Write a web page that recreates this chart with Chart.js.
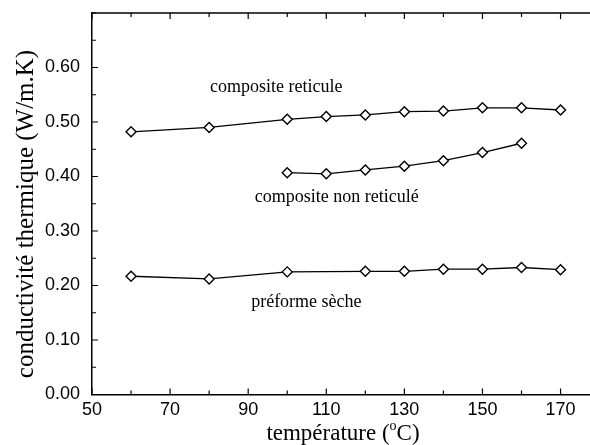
<!DOCTYPE html>
<html>
<head>
<meta charset="utf-8">
<script src="https://cdn.jsdelivr.net/npm/chart.js@4"></script>
<style>
  html, body { margin: 0; padding: 0; background: #fff; overflow: hidden; }
  #wrap { width: 606px; height: 445px; }
</style>
</head>
<body>
<div id="wrap"><canvas id="chart" width="606" height="445"></canvas></div>
<script>
// --- data ---
const tempsReticule = [60, 80, 100, 110, 120, 130, 140, 150, 160, 170];
const condReticule  = [0.482, 0.490, 0.505, 0.510, 0.513, 0.519, 0.520, 0.526, 0.526, 0.522];

const tempsNonReticule = [100, 110, 120, 130, 140, 150, 160];
const condNonReticule  = [0.407, 0.405, 0.412, 0.419, 0.429, 0.444, 0.461];

const tempsPreforme = [60, 80, 100, 120, 130, 140, 150, 160, 170];
const condPreforme  = [0.217, 0.212, 0.225, 0.226, 0.226, 0.230, 0.230, 0.233, 0.229];

const xTickLabels = [50, 70, 90, 110, 130, 150, 170];
const yTickLabels = [0.00, 0.10, 0.20, 0.30, 0.40, 0.50, 0.60];

const annotations = [
  { text: 'composite reticule', x: 97.2, y: 0.564 },
  { text: 'composite non reticulé', x: 112.7, y: 0.362 },
  { text: 'préforme sèche', x: 104.9, y: 0.170 }
];

function toPoints(xs, ys) {
  return xs.map((x, i) => ({ x: x, y: ys[i] }));
}

function series(xs, ys) {
  return {
    data: toPoints(xs, ys),
    borderColor: '#000',
    borderWidth: 1.3,
    pointStyle: 'rectRot',
    pointRadius: 5,
    pointBorderWidth: 1.4,
    pointBackgroundColor: '#fff',
    pointBorderColor: '#000',
    tension: 0,
    fill: false
  };
}

const near = (v, list) => list.some(t => Math.abs(t - v) < 1e-6);

// inward ticks, top frame line, axis titles and in-plot labels
const decorations = {
  id: 'decorations',
  afterDraw(chart) {
    const ctx = chart.ctx;
    const xs = chart.scales.x, ys = chart.scales.y;
    const area = chart.chartArea;
    ctx.save();
    ctx.strokeStyle = '#000';
    ctx.lineWidth = 1.5;
    ctx.beginPath();
    ctx.moveTo(area.left, area.top);
    ctx.lineTo(area.right + 2, area.top);
    ctx.stroke();

    ctx.lineWidth = 1.2;
    ctx.beginPath();
    xs.ticks.forEach(t => {
      const px = xs.getPixelForValue(t.value);
      const len = near(t.value, xTickLabels) ? 6 : 4;
      ctx.moveTo(px, area.bottom);
      ctx.lineTo(px, area.bottom - len);
      ctx.moveTo(px, area.top);
      ctx.lineTo(px, area.top + len);
    });
    ys.ticks.forEach(t => {
      const py = ys.getPixelForValue(t.value);
      const len = near(t.value, yTickLabels) ? 6 : 4;
      ctx.moveTo(area.left, py);
      ctx.lineTo(area.left + len, py);
    });
    ctx.stroke();

    ctx.fillStyle = '#000';
    ctx.textAlign = 'center';
    ctx.textBaseline = 'middle';
    ctx.font = '18px "Liberation Serif", "Times New Roman", serif';
    annotations.forEach(a => {
      ctx.fillText(a.text, xs.getPixelForValue(a.x), ys.getPixelForValue(a.y));
    });

    // x title with a raised small "o" before C
    const big = '23px "Liberation Serif", "Times New Roman", serif';
    const small = '14px "Liberation Serif", "Times New Roman", serif';
    const p1 = 'température (', p2 = 'o', p3 = 'C)';
    ctx.font = big;
    const w1 = ctx.measureText(p1).width, w3 = ctx.measureText(p3).width;
    ctx.font = small;
    const w2 = ctx.measureText(p2).width;
    let x0 = 343 - (w1 + w2 + w3) / 2;
    ctx.textAlign = 'left';
    ctx.textBaseline = 'alphabetic';
    ctx.font = big;
    ctx.fillText(p1, x0, 440);
    ctx.font = small;
    ctx.fillText(p2, x0 + w1, 430);
    ctx.font = big;
    ctx.fillText(p3, x0 + w1 + w2, 440);

    ctx.textAlign = 'center';
    ctx.textBaseline = 'middle';
    ctx.font = '25px "Liberation Serif", "Times New Roman", serif';
    ctx.translate(26, 214);
    ctx.rotate(-Math.PI / 2);
    ctx.fillText('conductivité thermique (W/m.K)', 0, 0);
    ctx.restore();
  }
};

new Chart(document.getElementById('chart'), {
  type: 'line',
  data: {
    datasets: [
      series(tempsReticule, condReticule),
      series(tempsNonReticule, condNonReticule),
      series(tempsPreforme, condPreforme)
    ]
  },
  options: {
    responsive: false,
    animation: false,
    layout: { padding: { top: 13, right: 1, left: 0, bottom: 0 } },
    plugins: { legend: { display: false }, tooltip: { enabled: false } },
    scales: {
      x: {
        type: 'linear',
        min: 50,
        max: 180,
        afterFit(scale) {
          scale.height = 50.5;
          scale.paddingLeft = 0;
          scale.paddingRight = 0;
        },
        afterBuildTicks(scale) {
          const t = [];
          for (let v = 50; v <= 180; v += 10) t.push({ value: v });
          scale.ticks = t;
        },
        grid: { display: false },
        border: { display: true, color: '#000', width: 1.5 },
        ticks: {
          color: '#000',
          padding: -3,
          maxRotation: 0,
          autoSkip: false,
          font: { family: '"Liberation Sans", Arial, sans-serif', size: 18 },
          callback: v => near(v, xTickLabels) ? String(v) : ''
        }
      },
      y: {
        type: 'linear',
        min: 0,
        max: 0.70,
        afterFit(scale) {
          scale.width = 92;
          scale.paddingTop = 0;
          scale.paddingBottom = 0;
        },
        afterBuildTicks(scale) {
          const t = [];
          for (let i = 0; i <= 14; i++) t.push({ value: i * 0.05 });
          scale.ticks = t;
        },
        grid: { display: false },
        border: { display: true, color: '#000', width: 1.5 },
        ticks: {
          color: '#000',
          padding: 4,
          autoSkip: false,
          font: { family: '"Liberation Sans", Arial, sans-serif', size: 18 },
          callback: v => near(v, yTickLabels) ? v.toFixed(2) : ''
        }
      }
    }
  },
  plugins: [decorations]
});
</script>
</body>
</html>
